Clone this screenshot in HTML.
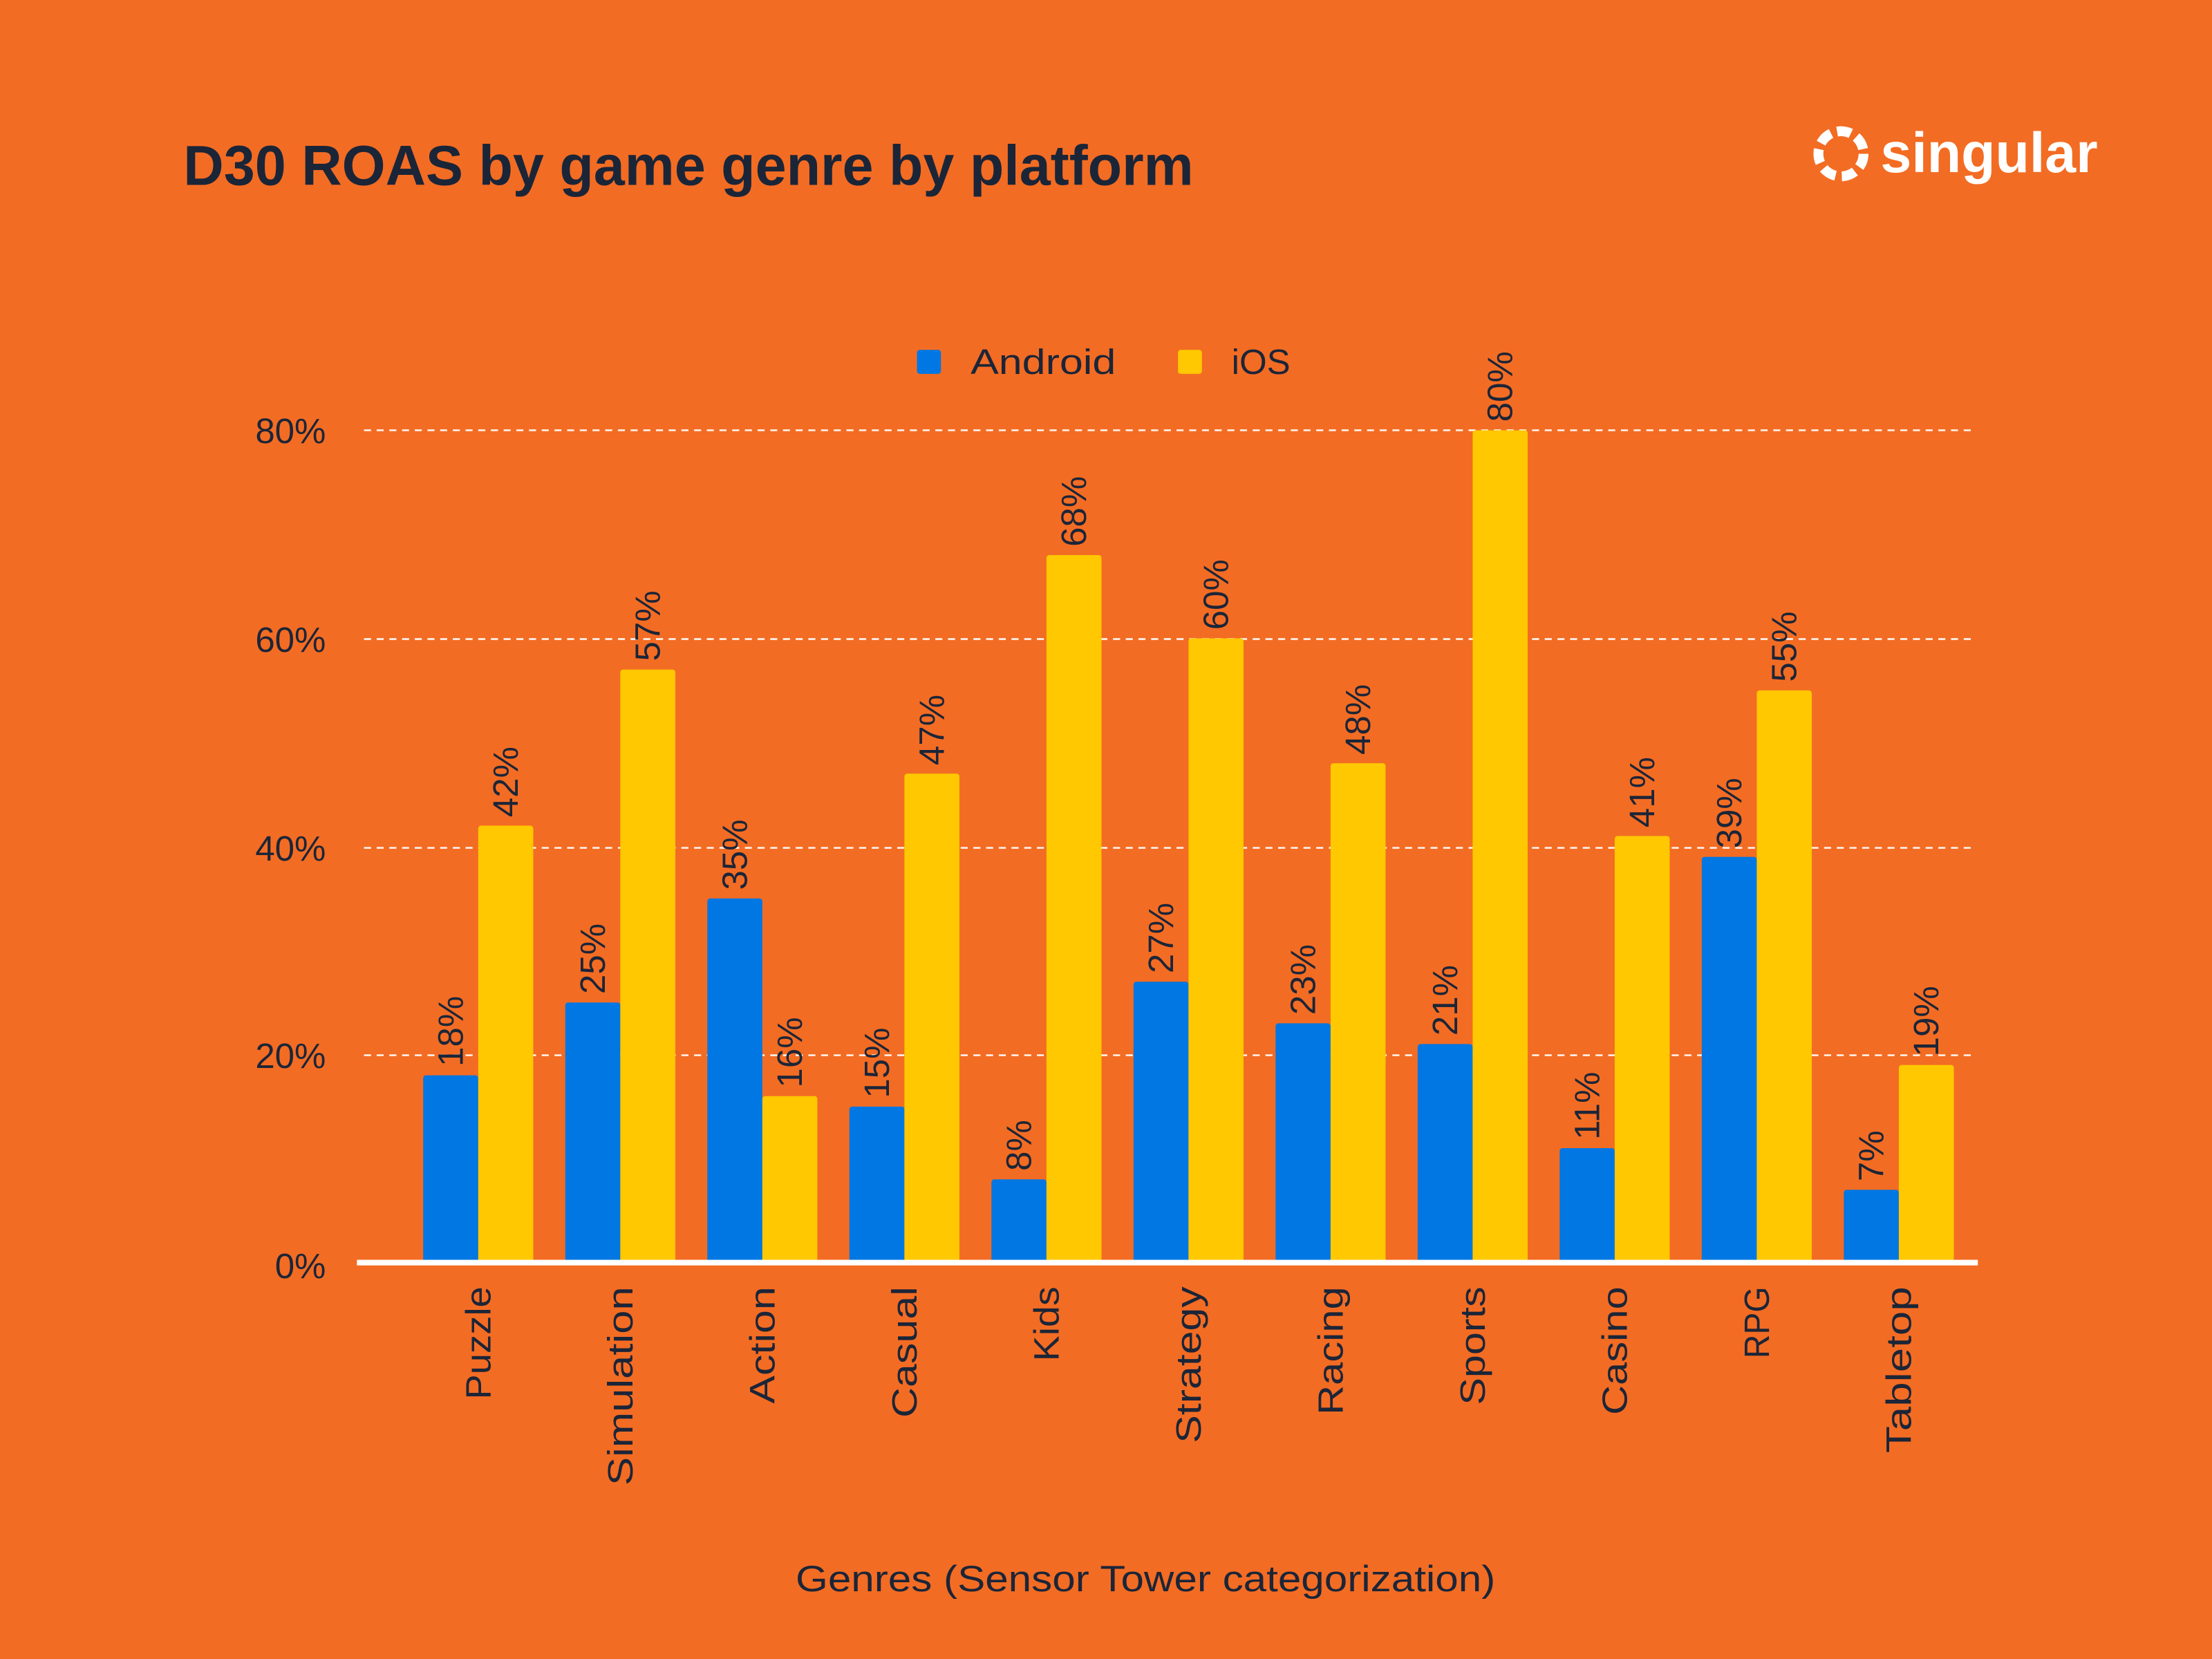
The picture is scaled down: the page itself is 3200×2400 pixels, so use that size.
<!DOCTYPE html>
<html><head><meta charset="utf-8"><style>
html,body{margin:0;padding:0;background:#F36C23;}
svg{display:block}
text{font-family:"Liberation Sans",sans-serif;fill:#1B2538}
</style></head><body>
<svg width="3200" height="2400" viewBox="0 0 1568 1176" xmlns="http://www.w3.org/2000/svg">
<rect width="1568" height="1176" fill="#F36C23"/>
<text x="130" y="131" font-size="40" font-weight="bold" textLength="716" lengthAdjust="spacingAndGlyphs">D30 ROAS by game genre by platform</text>
<g transform="translate(1305,109)">
<circle r="16" fill="none" stroke="#fff" stroke-width="7" stroke-dasharray="10 4.5"/>
</g>
<text x="1333" y="122" font-size="40" font-weight="bold" style="fill:#fff" textLength="154" lengthAdjust="spacingAndGlyphs">singular</text>
<rect x="650" y="248" width="17" height="17" rx="2" fill="#0077E2"/>
<text x="688" y="265" font-size="25" textLength="103" lengthAdjust="spacingAndGlyphs">Android</text>
<rect x="835" y="248" width="17" height="17" rx="2" fill="#FFC800"/>
<text x="873" y="265" font-size="25">iOS</text>
<g stroke="#fff" stroke-width="1.3" stroke-dasharray="5 4" opacity="0.9">
<line x1="258" y1="305" x2="1400" y2="305"/>
<line x1="258" y1="453" x2="1400" y2="453"/>
<line x1="258" y1="601" x2="1400" y2="601"/>
<line x1="258" y1="748" x2="1400" y2="748"/>
</g>
<g font-size="25" text-anchor="end">
<text x="231" y="314">80%</text>
<text x="231" y="462">60%</text>
<text x="231" y="610">40%</text>
<text x="231" y="757">20%</text>
<text x="231" y="906">0%</text>
</g>
<g fill="#0077E2">
<rect x="300" y="762.25" width="39" height="132.75" rx="2"/>
<rect x="400.7" y="710.6" width="39" height="184.4" rx="2"/>
<rect x="501.4" y="636.9" width="39" height="258.1" rx="2"/>
<rect x="602.1" y="784.4" width="39" height="110.6" rx="2"/>
<rect x="702.8" y="836" width="39" height="59" rx="2"/>
<rect x="803.5" y="695.9" width="39" height="199.1" rx="2"/>
<rect x="904.2" y="725.4" width="39" height="169.6" rx="2"/>
<rect x="1004.9" y="740.1" width="39" height="154.9" rx="2"/>
<rect x="1105.6" y="813.9" width="39" height="81.1" rx="2"/>
<rect x="1206.3" y="607.4" width="39" height="287.6" rx="2"/>
<rect x="1307" y="843.4" width="39" height="51.6" rx="2"/>
</g>
<g fill="#FFC800">
<rect x="339" y="585.25" width="39" height="309.75" rx="2"/>
<rect x="439.7" y="474.6" width="39" height="420.4" rx="2"/>
<rect x="540.4" y="777" width="39" height="118" rx="2"/>
<rect x="641.1" y="548.4" width="39" height="346.6" rx="2"/>
<rect x="741.8" y="393.5" width="39" height="501.5" rx="2"/>
<rect x="842.5" y="452.5" width="39" height="442.5" rx="2"/>
<rect x="943.2" y="541" width="39" height="354" rx="2"/>
<rect x="1043.9" y="305" width="39" height="590" rx="2"/>
<rect x="1144.6" y="592.6" width="39" height="302.4" rx="2"/>
<rect x="1245.3" y="489.4" width="39" height="405.6" rx="2"/>
<rect x="1346" y="754.9" width="39" height="140.1" rx="2"/>
</g>
<g font-size="25" dominant-baseline="central">
<text transform="translate(319.5,756) rotate(-90)">18%</text>
<text transform="translate(420.2,704.6) rotate(-90)">25%</text>
<text transform="translate(520.9,630.9) rotate(-90)">35%</text>
<text transform="translate(621.6,778.4) rotate(-90)">15%</text>
<text transform="translate(722.3,830) rotate(-90)">8%</text>
<text transform="translate(823,689.9) rotate(-90)">27%</text>
<text transform="translate(923.7,719.4) rotate(-90)">23%</text>
<text transform="translate(1024.4,734.1) rotate(-90)">21%</text>
<text transform="translate(1125.1,807.9) rotate(-90)">11%</text>
<text transform="translate(1225.8,601.4) rotate(-90)">39%</text>
<text transform="translate(1326.5,837.4) rotate(-90)">7%</text>
<text transform="translate(358.5,579.25) rotate(-90)">42%</text>
<text transform="translate(459.2,468.6) rotate(-90)">57%</text>
<text transform="translate(559.9,771) rotate(-90)">16%</text>
<text transform="translate(660.6,542.4) rotate(-90)">47%</text>
<text transform="translate(761.3,387.5) rotate(-90)">68%</text>
<text transform="translate(862,446.5) rotate(-90)">60%</text>
<text transform="translate(962.7,535) rotate(-90)">48%</text>
<text transform="translate(1063.4,299) rotate(-90)">80%</text>
<text transform="translate(1164.1,586.6) rotate(-90)">41%</text>
<text transform="translate(1264.8,483.4) rotate(-90)">55%</text>
<text transform="translate(1365.5,748.9) rotate(-90)">19%</text>
</g>
<g font-size="25" text-anchor="end" dominant-baseline="central" lengthAdjust="spacingAndGlyphs">
<text transform="translate(339,912) rotate(-90)" textLength="80" lengthAdjust="spacingAndGlyphs">Puzzle</text>
<text transform="translate(439.7,912) rotate(-90)" textLength="141" lengthAdjust="spacingAndGlyphs">Simulation</text>
<text transform="translate(540.4,912) rotate(-90)" textLength="83" lengthAdjust="spacingAndGlyphs">Action</text>
<text transform="translate(641.1,912) rotate(-90)" textLength="93" lengthAdjust="spacingAndGlyphs">Casual</text>
<text transform="translate(741.8,912) rotate(-90)" textLength="53" lengthAdjust="spacingAndGlyphs">Kids</text>
<text transform="translate(842.5,912) rotate(-90)" textLength="111" lengthAdjust="spacingAndGlyphs">Strategy</text>
<text transform="translate(943.2,912) rotate(-90)" textLength="91" lengthAdjust="spacingAndGlyphs">Racing</text>
<text transform="translate(1043.9,912) rotate(-90)" textLength="84" lengthAdjust="spacingAndGlyphs">Sports</text>
<text transform="translate(1144.6,912) rotate(-90)" textLength="91" lengthAdjust="spacingAndGlyphs">Casino</text>
<text transform="translate(1245.3,912) rotate(-90)" textLength="51" lengthAdjust="spacingAndGlyphs">RPG</text>
<text transform="translate(1346,912) rotate(-90)" textLength="118" lengthAdjust="spacingAndGlyphs">Tabletop</text>
</g>
<line x1="253" y1="895" x2="1402" y2="895" stroke="#fff" stroke-width="4"/>
<text x="812" y="1128" font-size="26" text-anchor="middle" textLength="496" lengthAdjust="spacingAndGlyphs">Genres (Sensor Tower categorization)</text>
</svg>
</body></html>
